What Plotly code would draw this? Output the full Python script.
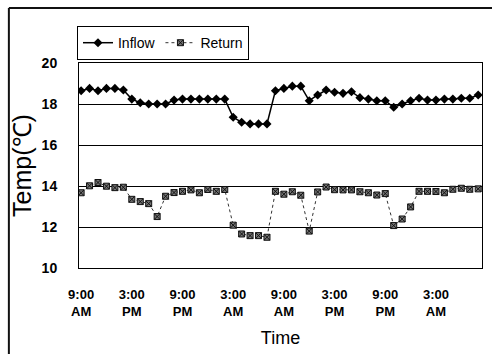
import plotly.graph_objects as go

# hourly readings, 48 points starting 9:00 AM
inflow = [18.65, 18.76, 18.65, 18.76, 18.76, 18.68, 18.24, 18.06, 18.0, 18.0,
          18.0, 18.19, 18.24, 18.24, 18.24, 18.24, 18.24, 18.24, 17.35, 17.11,
          17.03, 17.03, 17.03, 18.65, 18.76, 18.87, 18.87, 18.16, 18.44, 18.68,
          18.57, 18.52, 18.60, 18.31, 18.24, 18.16, 18.16, 17.84, 18.0, 18.16,
          18.28, 18.19, 18.19, 18.24, 18.24, 18.28, 18.28, 18.44]
ret = [13.67, 14.01, 14.17, 13.99, 13.92, 13.94, 13.35, 13.24, 13.14, 12.51,
       13.50, 13.68, 13.74, 13.81, 13.67, 13.83, 13.74, 13.83, 12.09, 11.66,
       11.58, 11.58, 11.50, 13.74, 13.60, 13.72, 13.55, 11.80, 13.71, 13.95,
       13.82, 13.81, 13.81, 13.72, 13.67, 13.56, 13.63, 12.07, 12.39, 12.98,
       13.74, 13.74, 13.73, 13.67, 13.84, 13.89, 13.84, 13.86]
hours = list(range(len(inflow)))
tick_pos = [0, 6, 12, 18, 24, 30, 36, 42]
tick_text = ["9:00<br>AM", "3:00<br>PM", "9:00<br>PM", "3:00<br>AM",
             "9:00<br>AM", "3:00<br>PM", "9:00<br>PM", "3:00<br>AM"]
y_ticks = [10, 12, 14, 16, 18, 20]

fig = go.Figure()
fig.add_trace(go.Scatter(
    x=hours, y=inflow, name="Inflow", mode="lines+markers",
    line=dict(color="#000000", width=1.5),
    marker=dict(symbol="diamond", size=7, color="#000000"),
))
fig.add_trace(go.Scatter(
    x=hours, y=ret, name="Return", mode="lines+markers",
    line=dict(color="#333333", width=1, dash="dot"),
    marker=dict(symbol="square-x", size=6, color="#777777",
                line=dict(color="#111111", width=1)),
))

FONT = "Liberation Sans, Arial, sans-serif"
fig.update_layout(
    width=492, height=354,
    margin=dict(l=79, r=10, t=63, b=86),
    paper_bgcolor="white", plot_bgcolor="white",
    font=dict(family=FONT, color="#000000"),
    showlegend=True,
    legend=dict(
        orientation="h", x=-0.005, y=1.18, xanchor="left", yanchor="top",
        bordercolor="#000000", borderwidth=1, bgcolor="white",
        font=dict(size=14, family=FONT), itemwidth=30,
        tracegroupgap=0,
    ),
    shapes=[
        dict(type="line", xref="paper", yref="paper",
             x0=-0.174, x1=1.03, y0=1.268, y1=1.268,
             line=dict(color="#111111", width=2)),
        dict(type="line", xref="paper", yref="paper",
             x0=-0.174, x1=-0.174, y0=1.268, y1=-0.45,
             line=dict(color="#111111", width=2)),
    ],
)
fig.update_xaxes(
    range=[-0.25, 47.45], tickvals=tick_pos, ticktext=tick_text,
    showgrid=False, zeroline=False, showline=True, linecolor="#000000",
    linewidth=1, mirror=True, ticks="", ticklabelstandoff=14,
    tickfont=dict(size=13, family=FONT, weight="bold"),
    title=dict(text="Time", font=dict(size=18, family=FONT), standoff=13),
)
fig.update_yaxes(
    range=[10, 20], tickvals=y_ticks,
    showgrid=True, gridcolor="#000000", gridwidth=1,
    zeroline=False, showline=True, linecolor="#000000",
    linewidth=1, mirror=True, ticks="", ticklabelstandoff=18,
    tickfont=dict(size=14, family=FONT, weight="bold"),
    title=dict(text="Temp(℃)", font=dict(size=25, family=FONT), standoff=2),
)

fig.write_html("out.html", config={"displayModeBar": False},
               post_script="document.body.style.margin='0';")
